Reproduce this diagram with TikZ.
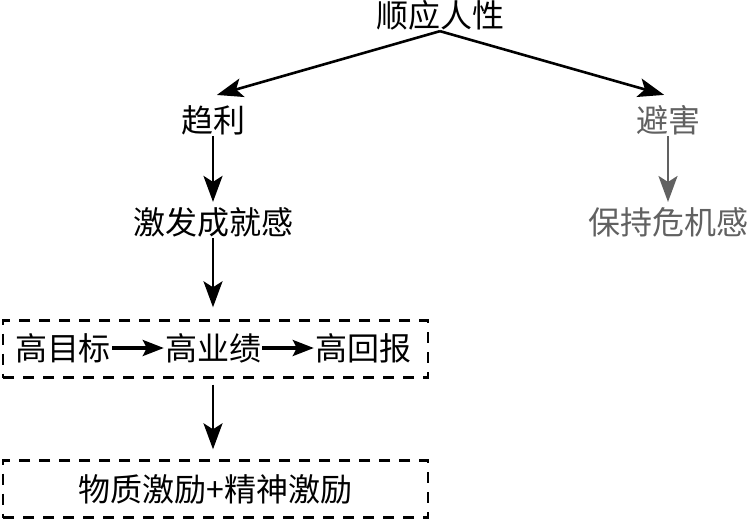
\documentclass[tikz,border=0pt]{standalone}
\usepackage{fontspec}
\setmainfont{Noto Sans CJK SC}
\usetikzlibrary{arrows.meta,positioning}

\tikzset{
  lbl/.style={inner sep=1pt, font=\fontsize{32}{36}\selectfont},
  flow/.style={-{Stealth[length=26pt,width=19pt,inset=6pt]}, line width=2.6pt, shorten >=4pt},
  chain/.style={-{Stealth[length=21pt,width=16pt,inset=4pt]}, line width=3.2pt},
  greytext/.style={text=black!62},
  greyline/.style={draw=black!62},
  dbox/.style={draw, dash pattern=on 11pt off 9pt, line width=2.4pt,
    minimum width=425pt, minimum height=57pt, inner sep=0pt}
}

\begin{document}
\begin{tikzpicture}[x=1pt,y=1pt]
	\useasboundingbox (0,0) rectangle (752,-520);

	\node[lbl] (root) at (440,-15) {顺应人性};
	\node[lbl] (qu) at (213,-120) {趋利};
	\node[lbl, greytext] (bi) at (668,-120) {避害};
	\node[lbl] (spur) at (213,-222) {激发成就感};
	\node[lbl, greytext] (crisis) at (668,-222) {保持危机感};

	% dashed boxes
	\node[dbox] (goals) at (215.5,-349) {};
	\node[dbox, lbl, inner sep=0pt] (reward) at (215.5,-489) {物质激励+精神激励};

	\node[lbl] (hg) at (63,-348) {高目标};
	\node[lbl] (hp) at (213,-348) {高业绩};
	\node[lbl] (hr) at (363,-348) {高回报};

	\draw[flow] (root.south) -- ([yshift=8pt]qu.north);
	\draw[flow] (root.south) -- ([yshift=8pt]bi.north);
	\draw[flow] (qu) -- (spur);
	\draw[flow, greyline] (bi) -- (crisis);
	\draw[flow, shorten >=12pt] (spur) -- (spur |- goals.north);
	\draw[flow, shorten <=6pt, shorten >=10pt] (goals.south -| hp) -- (hp |- reward.north);
	\draw[chain] (hg) -- (hp);
	\draw[chain] (hp) -- (hr);
\end{tikzpicture}
\end{document}
